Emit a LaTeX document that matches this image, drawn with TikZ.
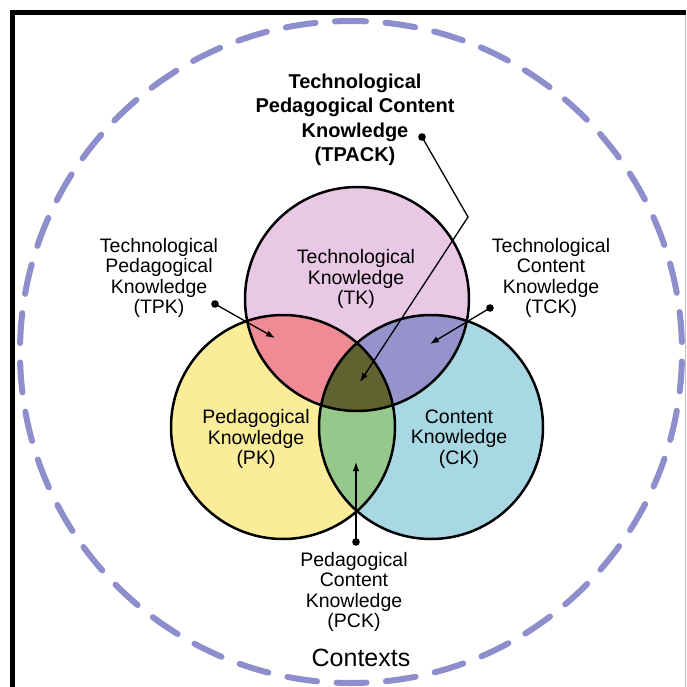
\documentclass[tikz,border=0pt]{standalone}
\usepackage{fontspec}
\setmainfont{Liberation Sans}
\usepackage{xcolor}
\usetikzlibrary{arrows.meta}
\definecolor{tkpink}{RGB}{232,200,228}
\definecolor{pkyellow}{RGB}{250,236,152}
\definecolor{ckblue}{RGB}{168,216,228}
\definecolor{tpkred}{RGB}{240,138,148}
\definecolor{tckpurple}{RGB}{150,146,204}
\definecolor{pckgreen}{RGB}{150,200,140}
\definecolor{tpackolive}{RGB}{96,98,48}
\definecolor{ctxblue}{RGB}{142,142,204}

\begin{document}
\begin{tikzpicture}[x=1pt,y=-1pt,
	lbl/.style={align=center,font=\fontsize{19.5}{20.5}\selectfont},
	tpacklbl/.style={align=center,font=\bfseries\fontsize{20}{24.5}\selectfont},
	ring/.style={draw=black,line width=2.5pt},
	pointer/.style={line width=1.3pt,-{Latex[length=9pt,width=6.5pt]}},
	ctxring/.style={draw=ctxblue,line width=6pt,line cap=round,dash pattern=on 30pt off 19.5pt,dash phase=15pt}]
		\useasboundingbox (0,0) rectangle (686,687);
		\fill[white] (0,0) rectangle (686,687);
		\draw[line width=5pt] (12.5,687) -- (12.5,12.5) -- (686,12.5);
		\draw[black!25,line width=1pt] (685,15) -- (685,687);
		\draw[ctxring] (351,21) arc[start angle=-90,end angle=270,radius=331];
		\coordinate (tk) at (357,299);
		\coordinate (pk) at (283,427);
		\coordinate (ck) at (431,427);
		\fill[tkpink] (tk) circle (112);
		\fill[pkyellow] (pk) circle (112);
		\fill[ckblue] (ck) circle (112);
		\begin{scope}
			\clip (tk) circle (112);
			\fill[tpkred] (pk) circle (112);
			\fill[tckpurple] (ck) circle (112);
		\end{scope}
		\begin{scope}
			\clip (pk) circle (112);
			\fill[pckgreen] (ck) circle (112);
		\end{scope}
		\begin{scope}
			\clip (tk) circle (112);
			\clip (pk) circle (112);
			\fill[tpackolive] (ck) circle (112);
		\end{scope}
		\draw[ring] (tk) circle (112);
		\draw[ring] (pk) circle (112);
		\draw[ring] (ck) circle (112);
		\node[tpacklbl] (tpack) at (355,120) {Technological\\Pedagogical Content\\Knowledge\\(TPACK)};
		\node[lbl] (tpk) at (159,278) {Technological\\Pedagogical\\Knowledge\\(TPK)};
		\node[lbl] (tck) at (551,278) {Technological\\Content\\Knowledge\\(TCK)};
		\node[lbl] (tklbl) at (356,279) {Technological\\Knowledge\\(TK)};
		\node[lbl] (pklbl) at (256,439) {Pedagogical\\Knowledge\\(PK)};
		\node[lbl] (cklbl) at (459,439) {Content\\Knowledge\\(CK)};
		\node[lbl] (pck) at (354,592) {Pedagogical\\Content\\Knowledge\\(PCK)};
		\node[font=\fontsize{25}{30}\selectfont] (ctx) at (361,658) {Contexts};
		\coordinate (tpackdot) at (422,137);
		\coordinate (tpackbend) at (468,217);
		\coordinate (tpacktip) at (360,382);
		\coordinate (tpkdot) at (215,304);
		\coordinate (tpktip) at (275,338);
		\coordinate (tckdot) at (490,308);
		\coordinate (tcktip) at (430,344);
		\coordinate (pckdot) at (356,542);
		\coordinate (pcktip) at (356,462);
		\draw[pointer] (tpackdot) -- (tpackbend) -- (tpacktip);
		\draw[pointer] (tpkdot) -- (tpktip);
		\draw[pointer] (tckdot) -- (tcktip);
		\draw[pointer] (pckdot) -- (pcktip);
		\foreach \d in {tpackdot,tpkdot,tckdot,pckdot}
			\fill (\d) circle (3.8);
	\end{tikzpicture}
\end{document}
